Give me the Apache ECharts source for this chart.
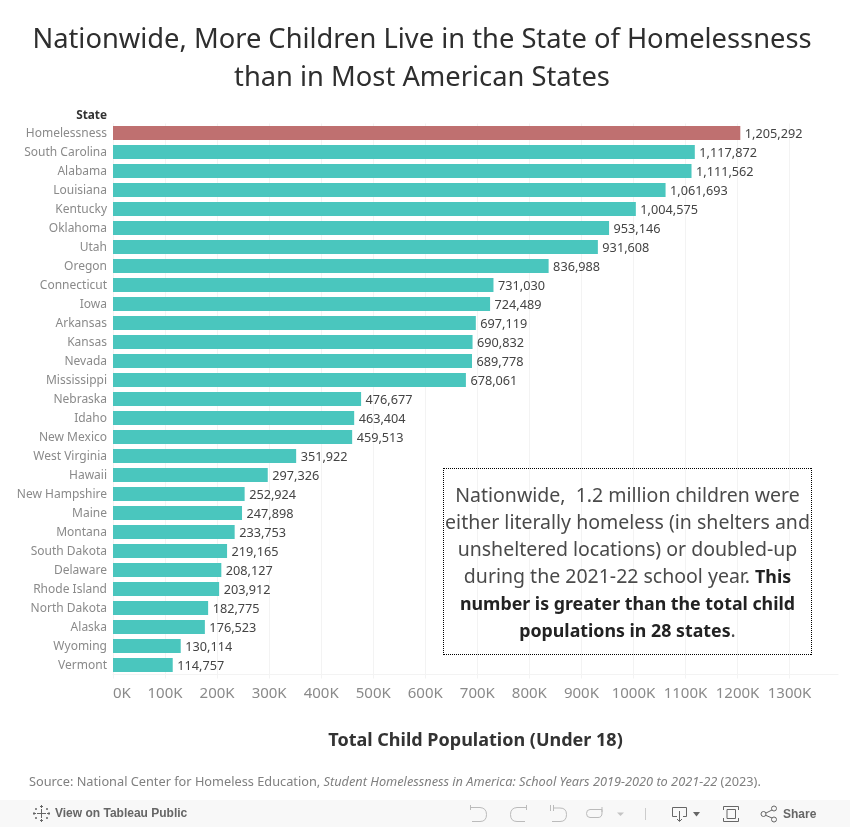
<!DOCTYPE html>
<html><head><meta charset="utf-8">
<style>html,body{margin:0;padding:0;background:#fff}#c{width:850px;height:827px}</style>
<script src="https://cdn.jsdelivr.net/npm/echarts@6/dist/echarts.min.js"></script>
</head><body><div id="c"></div>
<script>
const states = ["Homelessness","South Carolina","Alabama","Louisiana","Kentucky","Oklahoma","Utah","Oregon","Connecticut","Iowa","Arkansas","Kansas","Nevada","Mississippi","Nebraska","Idaho","New Mexico","West Virginia","Hawaii","New Hampshire","Maine","Montana","South Dakota","Delaware","Rhode Island","North Dakota","Alaska","Wyoming","Vermont"];
const population = [1205292,1117872,1111562,1061693,1004575,953146,931608,836988,731030,724489,697119,690832,689778,678061,476677,463404,459513,351922,297326,252924,247898,233753,219165,208127,203912,182775,176523,130114,114757];
const xTicks = [0,100000,200000,300000,400000,500000,600000,700000,800000,900000,1000000,1100000,1200000,1300000];
const highlighted = "Homelessness";
const FONT = '"Noto Sans", sans-serif';
const TEAL = '#4ac6be', RED = '#bf7070';
const icon = '#bbb', iconDark = '#666';
let shapeId = 0;
function stroke(path, color, w){
  const name = 'toolbarIcon' + (shapeId++);
  echarts.graphic.registerShape(name, echarts.graphic.extendPath(path, {}));
  return {type:name, silent:true, z:10, style:{fill:null, stroke:color||icon, lineWidth:w||1}};
}
function dotted(x1,y1,x2,y2){
  return {type:'line', silent:true, z:10, shape:{x1,y1,x2,y2}, style:{stroke:'#000', lineWidth:1, lineDash:[1,1]}};
}
const chart = echarts.init(document.getElementById('c'), null, {renderer:'canvas'});
chart.setOption({
  animation:false,
  backgroundColor:'#fff',
  textStyle:{fontFamily:FONT},
  title:{
    text:'Nationwide, More Children Live in the State of Homelessness\nthan in Most American States',
    left:417, top:16, textAlign:'center',
    textStyle:{fontFamily:FONT, fontSize:27.3, fontWeight:'normal', color:'#2e2e2e', lineHeight:38}
  },
  grid:{left:113, top:123.5, width:725, height:551, containLabel:false},
  xAxis:{
    type:'value', min:0, max:1393000,
    name:'Total Child Population (Under 18)', nameLocation:'middle', nameGap:57.5,
    nameTextStyle:{fontFamily:FONT, fontSize:18, fontWeight:'bold', color:'#333'},
    axisLine:{show:true, lineStyle:{color:'#f3f3f3'}},
    axisTick:{show:true, length:4, customValues:xTicks, lineStyle:{color:'#f3f3f3'}},
    splitLine:{show:true, lineStyle:{color:'#f3f3f3', width:1}},
    axisLabel:{customValues:xTicks, alignMinLabel:'left', margin:11.5, fontFamily:FONT, fontSize:15, color:'#8a8a8a', formatter:v=>(v/1000)+'K'}
  },
  yAxis:{
    type:'category', data:states, inverse:true,
    axisLine:{show:true, lineStyle:{color:'#f3f3f3'}},
    axisTick:{show:false},
    axisLabel:{interval:0, margin:6, fontFamily:FONT, fontSize:12, color:'#8a8a8a', verticalAlign:'top', lineHeight:2}
  },
  series:[{
    type:'bar', barWidth:14,
    data:population.map((v,i)=>({value:v, itemStyle:{color:states[i]===highlighted?RED:TEAL}})),
    label:{show:true, position:'right', distance:4.5, offset:[0,1.5], fontFamily:FONT, fontSize:12.7, color:'#444', formatter:p=>p.value.toLocaleString('en-US')}
  }],
  graphic:[
    {type:'text', x:107, y:116, z:10, silent:true, style:{text:'State', align:'right', verticalAlign:'middle', font:'bold 11.8px '+FONT, fill:'#333'}},
    dotted(444,468.5,812,468.5), dotted(444,654.5,812,654.5),
    dotted(443.5,468,443.5,655), dotted(811.5,468,811.5,655),
    {type:'text', x:627.5, y:564, z:10, silent:true, style:{
      rich:{n:{font:'19.5px '+FONT, fill:'#4a4a4a', lineHeight:27}, b:{font:'bold 17.8px '+FONT, fill:'#222', lineHeight:27}},
      text:'{n|Nationwide,  1.2 million children were}\n{n|either literally homeless (in shelters and}\n{n|unsheltered locations) or doubled-up}\n{n|during the 2021-22 school year. }{b|This}\n{b|number is greater than the total child}\n{b|populations in 28 states}{n|.}',
      align:'center', verticalAlign:'middle'}},
    {type:'text', x:29, y:782.5, z:10, silent:true, style:{
      rich:{n:{font:'12.75px '+FONT, fill:'#808080'}, i:{font:'italic 12.75px '+FONT, fill:'#808080'}},
      text:'{n|Source: National Center for Homeless Education, }{i|Student Homelessness in America: School Years 2019-2020 to 2021-22}{n| (2023).}',
      verticalAlign:'middle'}},
    {type:'rect', silent:true, z:-1, shape:{x:0,y:800,width:850,height:27}, style:{fill:'#f8f8f8'}},
    {type:'text', x:55, y:814, z:10, silent:true, style:{text:'View on Tableau Public', verticalAlign:'middle', font:'bold 12px "Liberation Sans", sans-serif', fill:'#666'}},
    {type:'text', x:783, y:814.5, z:10, silent:true, style:{text:'Share', verticalAlign:'middle', font:'bold 12px "Liberation Sans", sans-serif', fill:'#666'}},
    stroke('M41.5 809V818 M37 813.5H46 M41.5 805V808 M40 806.5H43 M41.5 819V822 M40 820.5H43 M34 812V815 M33 813.5H36 M49 812V815 M47 813.5H50 M36 808V810 M35 809H37 M47 808V810 M46 809H48 M36 817V819 M35 818H37 M47 817V819 M46 818H48', iconDark),
    stroke('M470.5 805L470.5 810 M470.5 807.5H480Q486.5 808 486.5 814.5Q486.5 821.5 480 821.5H472'),
    stroke('M526.5 805L526.5 810 M526.5 807.5H517Q510.5 808 510.5 814.5Q510.5 821.5 517 821.5H525'),
    stroke('M550.5 805V811 M553.5 805V811 M553.5 808H560Q566.5 808 566.5 814.5Q566.5 821.5 560 821.5H552'),
    stroke('M590 809.5H602 M602 807V812 M602 809.5V813Q602 817.5 598 817.5H590Q586.5 817.5 586.5 813.5Q586.5 809.5 590 809.5'),
    {type:'polygon', silent:true, z:10, shape:{points:[[617,812.5],[624,812.5],[620.5,816]]}, style:{fill:'#c4c4c4'}},
    stroke('M645.5 808V820', '#ccc'),
    stroke('M672.5 816.5V807.5H686.5V816.5H683 M677 816.5H672.5 M679.5 811V821 M677 819L679.5 821.5L682 819', iconDark),
    {type:'polygon', silent:true, z:10, shape:{points:[[693,812],[700,812],[696.5,816.5]]}, style:{fill:iconDark}},
    stroke('M723.5 810V806.5H738.5V810 M723.5 818V821.5H738.5V818 M727 809.5H735.5V818.5H727Z', iconDark),
    stroke('M765 813.5L772 810 M765 815L772 818', iconDark),
    {type:'circle', silent:true, z:10, shape:{cx:763.5,cy:814,r:2.5}, style:{fill:'#f8f8f8',stroke:iconDark}},
    {type:'circle', silent:true, z:10, shape:{cx:774,cy:808.5,r:2.5}, style:{fill:'#f8f8f8',stroke:iconDark}},
    {type:'circle', silent:true, z:10, shape:{cx:774,cy:819.5,r:2.5}, style:{fill:'#f8f8f8',stroke:iconDark}}
  ]
});
</script></body></html>
